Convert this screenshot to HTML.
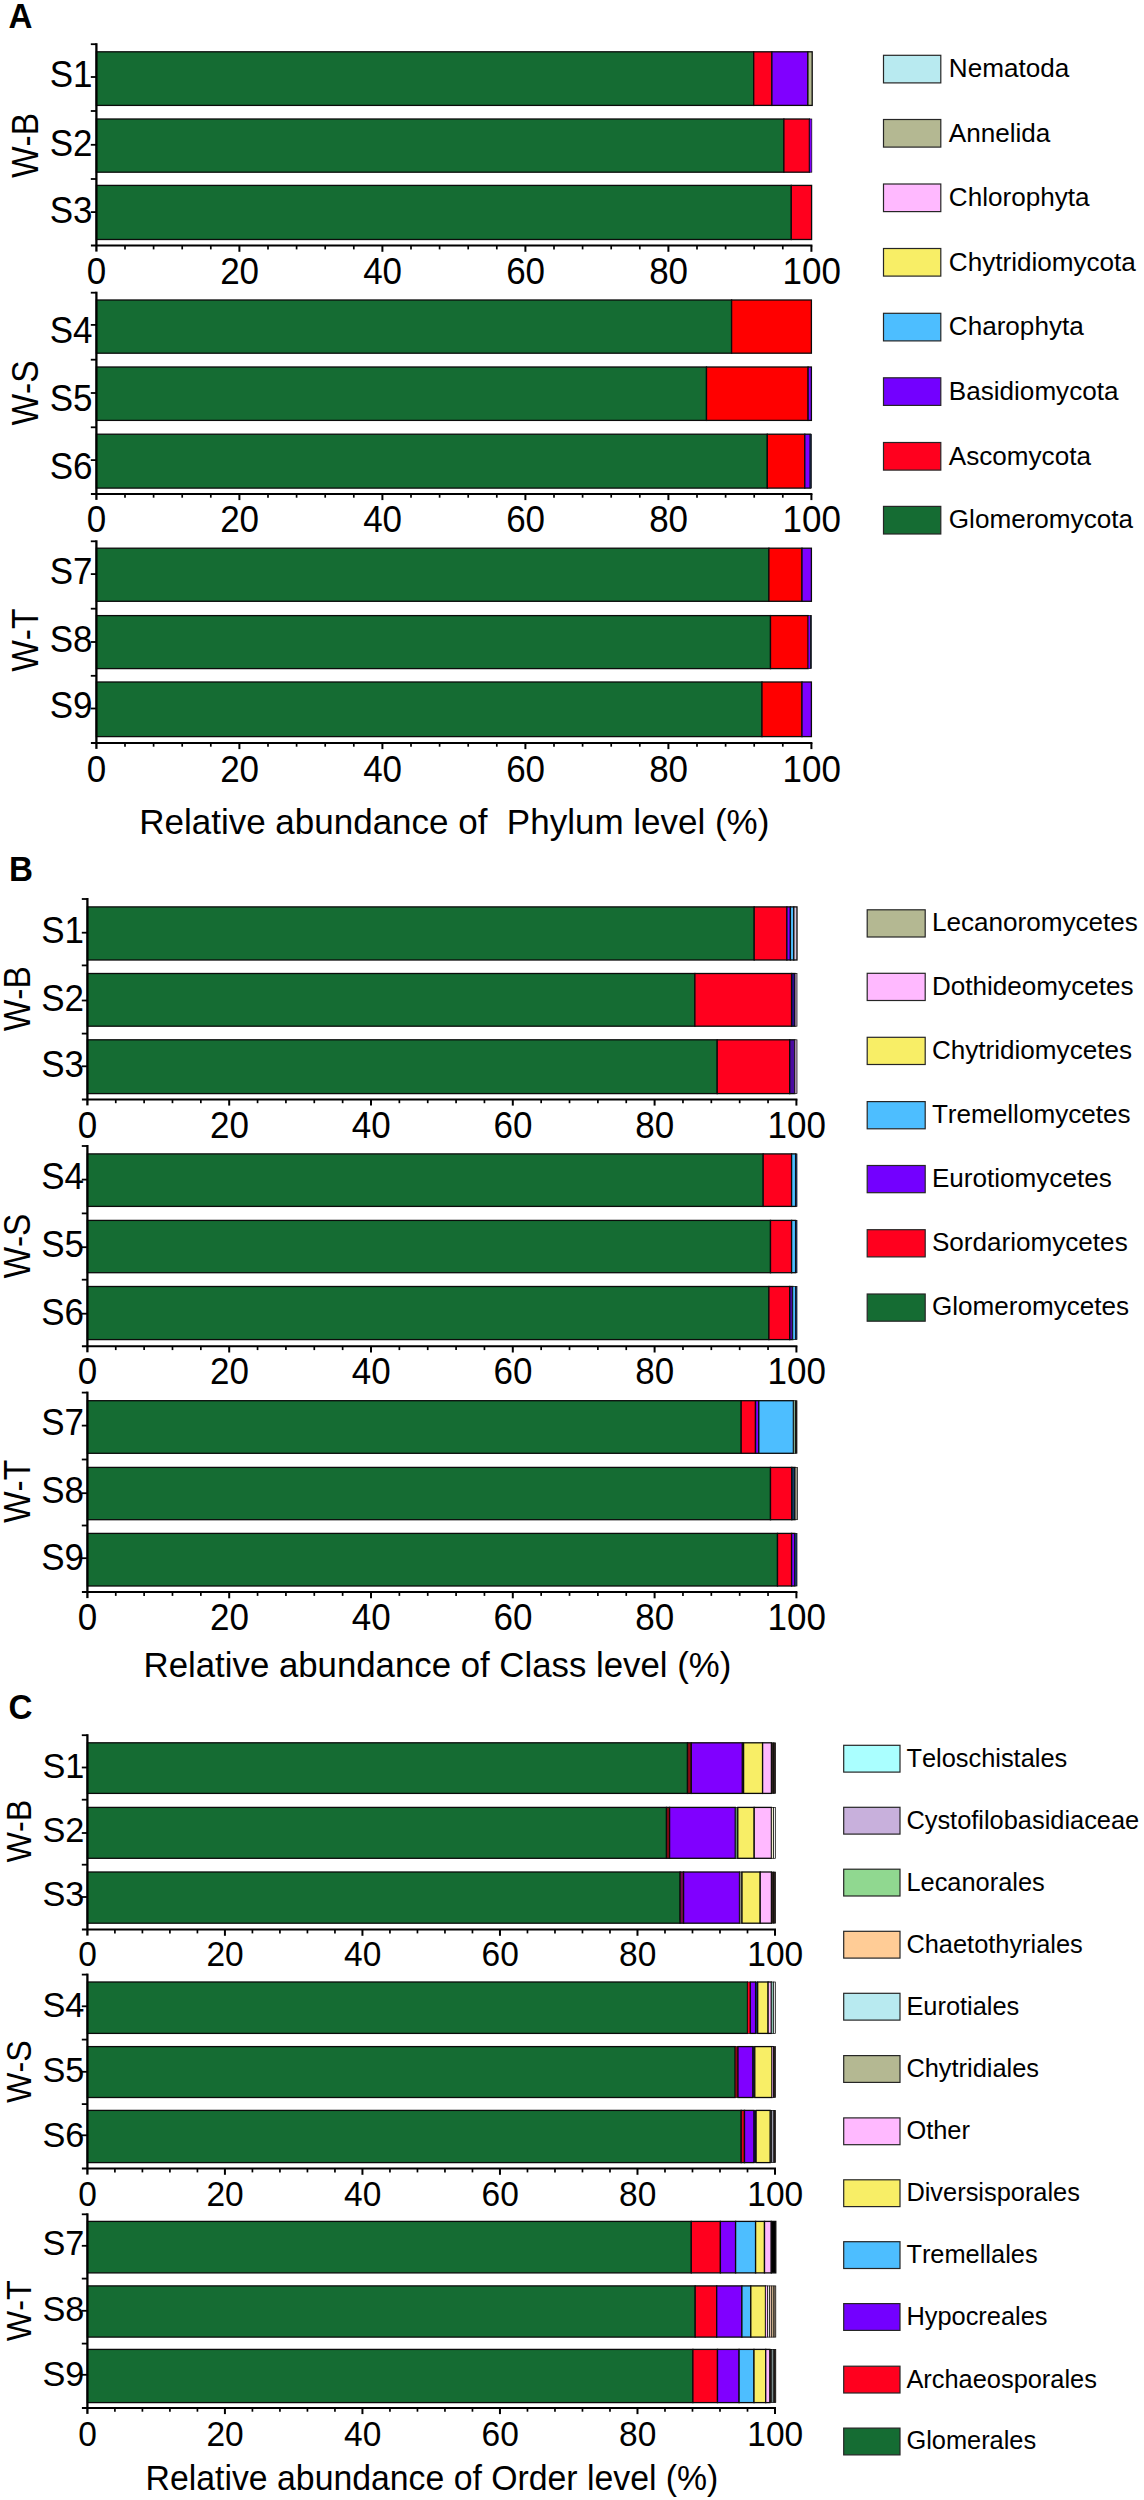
<!DOCTYPE html>
<html lang="en"><head><meta charset="utf-8"><title>Relative abundance at Phylum, Class and Order level</title>
<style>html,body{margin:0;padding:0;background:#fff}svg{display:block}text{font-family:'Liberation Sans', Arial, Helvetica, sans-serif;fill:#000;font-kerning:none}</style>
</head><body>
<svg width="1144" height="2500" viewBox="0 0 1144 2500">
<rect x="0" y="0" width="1144" height="2500" fill="#fff"/>
<g id="panelA">
<text transform="translate(8.5 27.6) scale(1.0 1.041)" font-size="33.2" font-weight="bold">A</text>
<rect x="96.4" y="51.8" width="657.3" height="53.6" fill="#156C33" stroke="#0b0b0b" stroke-width="1.3"/>
<rect x="753.7" y="51.8" width="18.2" height="53.6" fill="#FF001E" stroke="#0b0b0b" stroke-width="1.3"/>
<rect x="771.9" y="51.8" width="36" height="53.6" fill="#8000FF" stroke="#0b0b0b" stroke-width="1.3"/>
<rect x="807.9" y="51.8" width="4.3" height="53.6" fill="#B4B892" stroke="#0b0b0b" stroke-width="1.3"/>
<rect x="96.4" y="119" width="687.5" height="53.2" fill="#156C33" stroke="#0b0b0b" stroke-width="1.3"/>
<rect x="783.9" y="119" width="25.5" height="53.2" fill="#FF001E" stroke="#0b0b0b" stroke-width="1.3"/>
<rect x="809.4" y="119" width="2.4" height="53.2" fill="#8000FF" stroke="#0b0b0b" stroke-width="0.7"/>
<rect x="96.4" y="185.4" width="694.9" height="54.1" fill="#156C33" stroke="#0b0b0b" stroke-width="1.3"/>
<rect x="791.3" y="185.4" width="20.3" height="54.1" fill="#FF001E" stroke="#0b0b0b" stroke-width="1.3"/>
<line x1="96.4" y1="43.2" x2="96.4" y2="251.6" stroke="#000" stroke-width="2.3"/>
<line x1="90.9" y1="245.6" x2="812.4" y2="245.6" stroke="#000" stroke-width="2"/>
<line x1="90.8" y1="44.2" x2="96.4" y2="44.2" stroke="#000" stroke-width="1.8"/>
<line x1="90.8" y1="77" x2="96.4" y2="77" stroke="#000" stroke-width="1.8"/>
<line x1="90.8" y1="144.8" x2="96.4" y2="144.8" stroke="#000" stroke-width="1.8"/>
<line x1="90.8" y1="212.1" x2="96.4" y2="212.1" stroke="#000" stroke-width="1.8"/>
<line x1="90.8" y1="111" x2="96.4" y2="111" stroke="#000" stroke-width="1.8"/>
<line x1="90.8" y1="179" x2="96.4" y2="179" stroke="#000" stroke-width="1.8"/>
<line x1="125" y1="245.6" x2="125" y2="249.4" stroke="#000" stroke-width="1.7"/>
<line x1="153.6" y1="245.6" x2="153.6" y2="249.4" stroke="#000" stroke-width="1.7"/>
<line x1="182.2" y1="245.6" x2="182.2" y2="249.4" stroke="#000" stroke-width="1.7"/>
<line x1="210.8" y1="245.6" x2="210.8" y2="249.4" stroke="#000" stroke-width="1.7"/>
<line x1="239.4" y1="245.6" x2="239.4" y2="251.8" stroke="#000" stroke-width="2"/>
<line x1="268" y1="245.6" x2="268" y2="249.4" stroke="#000" stroke-width="1.7"/>
<line x1="296.6" y1="245.6" x2="296.6" y2="249.4" stroke="#000" stroke-width="1.7"/>
<line x1="325.2" y1="245.6" x2="325.2" y2="249.4" stroke="#000" stroke-width="1.7"/>
<line x1="353.8" y1="245.6" x2="353.8" y2="249.4" stroke="#000" stroke-width="1.7"/>
<line x1="382.4" y1="245.6" x2="382.4" y2="251.8" stroke="#000" stroke-width="2"/>
<line x1="411" y1="245.6" x2="411" y2="249.4" stroke="#000" stroke-width="1.7"/>
<line x1="439.6" y1="245.6" x2="439.6" y2="249.4" stroke="#000" stroke-width="1.7"/>
<line x1="468.2" y1="245.6" x2="468.2" y2="249.4" stroke="#000" stroke-width="1.7"/>
<line x1="496.8" y1="245.6" x2="496.8" y2="249.4" stroke="#000" stroke-width="1.7"/>
<line x1="525.4" y1="245.6" x2="525.4" y2="251.8" stroke="#000" stroke-width="2"/>
<line x1="554" y1="245.6" x2="554" y2="249.4" stroke="#000" stroke-width="1.7"/>
<line x1="582.6" y1="245.6" x2="582.6" y2="249.4" stroke="#000" stroke-width="1.7"/>
<line x1="611.2" y1="245.6" x2="611.2" y2="249.4" stroke="#000" stroke-width="1.7"/>
<line x1="639.8" y1="245.6" x2="639.8" y2="249.4" stroke="#000" stroke-width="1.7"/>
<line x1="668.4" y1="245.6" x2="668.4" y2="251.8" stroke="#000" stroke-width="2"/>
<line x1="697" y1="245.6" x2="697" y2="249.4" stroke="#000" stroke-width="1.7"/>
<line x1="725.6" y1="245.6" x2="725.6" y2="249.4" stroke="#000" stroke-width="1.7"/>
<line x1="754.2" y1="245.6" x2="754.2" y2="249.4" stroke="#000" stroke-width="1.7"/>
<line x1="782.8" y1="245.6" x2="782.8" y2="249.4" stroke="#000" stroke-width="1.7"/>
<line x1="811.4" y1="245.6" x2="811.4" y2="251.8" stroke="#000" stroke-width="2"/>
<text transform="translate(96.6 284) scale(1.0 1.041)" font-size="35.0" text-anchor="middle">0</text>
<text transform="translate(239.6 284) scale(1.0 1.041)" font-size="35.0" text-anchor="middle">20</text>
<text transform="translate(382.6 284) scale(1.0 1.041)" font-size="35.0" text-anchor="middle">40</text>
<text transform="translate(525.6 284) scale(1.0 1.041)" font-size="35.0" text-anchor="middle">60</text>
<text transform="translate(668.6 284) scale(1.0 1.041)" font-size="35.0" text-anchor="middle">80</text>
<text transform="translate(811.7 284) scale(1.0 1.041)" font-size="35.0" text-anchor="middle">100</text>
<text transform="translate(92.6 87.3) scale(1.0 1.041)" font-size="35.0" text-anchor="end">S1</text>
<text transform="translate(92.6 155.6) scale(1.0 1.041)" font-size="35.0" text-anchor="end">S2</text>
<text transform="translate(92.6 223.4) scale(1.0 1.041)" font-size="35.0" text-anchor="end">S3</text>
<text transform="translate(38.4 145.5) rotate(-90) scale(0.955 1.041)" font-size="35.0" text-anchor="middle">W-B</text>
<rect x="96.4" y="300" width="635.2" height="53.2" fill="#156C33" stroke="#0b0b0b" stroke-width="1.3"/>
<rect x="731.6" y="300" width="79.8" height="53.2" fill="#FF0000" stroke="#0b0b0b" stroke-width="1.3"/>
<rect x="96.4" y="367" width="610.1" height="53.4" fill="#156C33" stroke="#0b0b0b" stroke-width="1.3"/>
<rect x="706.5" y="367" width="101.6" height="53.4" fill="#FF0000" stroke="#0b0b0b" stroke-width="1.3"/>
<rect x="808.1" y="367" width="3.3" height="53.4" fill="#8000FF" stroke="#0b0b0b" stroke-width="1.3"/>
<rect x="96.4" y="434.2" width="670.9" height="53.9" fill="#156C33" stroke="#0b0b0b" stroke-width="1.3"/>
<rect x="767.3" y="434.2" width="37.5" height="53.9" fill="#FF0000" stroke="#0b0b0b" stroke-width="1.3"/>
<rect x="804.8" y="434.2" width="5.4" height="53.9" fill="#8000FF" stroke="#0b0b0b" stroke-width="1.3"/>
<rect x="810.2" y="434.2" width="1.2" height="53.9" fill="#1B3A7A" stroke="#0b0b0b" stroke-width="0.7"/>
<line x1="96.4" y1="291.7" x2="96.4" y2="499.9" stroke="#000" stroke-width="2.3"/>
<line x1="90.9" y1="493.9" x2="812.4" y2="493.9" stroke="#000" stroke-width="2"/>
<line x1="90.8" y1="292.7" x2="96.4" y2="292.7" stroke="#000" stroke-width="1.8"/>
<line x1="90.8" y1="324.9" x2="96.4" y2="324.9" stroke="#000" stroke-width="1.8"/>
<line x1="90.8" y1="393" x2="96.4" y2="393" stroke="#000" stroke-width="1.8"/>
<line x1="90.8" y1="460.1" x2="96.4" y2="460.1" stroke="#000" stroke-width="1.8"/>
<line x1="90.8" y1="359.7" x2="96.4" y2="359.7" stroke="#000" stroke-width="1.8"/>
<line x1="90.8" y1="427.3" x2="96.4" y2="427.3" stroke="#000" stroke-width="1.8"/>
<line x1="125" y1="493.9" x2="125" y2="497.7" stroke="#000" stroke-width="1.7"/>
<line x1="153.6" y1="493.9" x2="153.6" y2="497.7" stroke="#000" stroke-width="1.7"/>
<line x1="182.2" y1="493.9" x2="182.2" y2="497.7" stroke="#000" stroke-width="1.7"/>
<line x1="210.8" y1="493.9" x2="210.8" y2="497.7" stroke="#000" stroke-width="1.7"/>
<line x1="239.4" y1="493.9" x2="239.4" y2="500.1" stroke="#000" stroke-width="2"/>
<line x1="268" y1="493.9" x2="268" y2="497.7" stroke="#000" stroke-width="1.7"/>
<line x1="296.6" y1="493.9" x2="296.6" y2="497.7" stroke="#000" stroke-width="1.7"/>
<line x1="325.2" y1="493.9" x2="325.2" y2="497.7" stroke="#000" stroke-width="1.7"/>
<line x1="353.8" y1="493.9" x2="353.8" y2="497.7" stroke="#000" stroke-width="1.7"/>
<line x1="382.4" y1="493.9" x2="382.4" y2="500.1" stroke="#000" stroke-width="2"/>
<line x1="411" y1="493.9" x2="411" y2="497.7" stroke="#000" stroke-width="1.7"/>
<line x1="439.6" y1="493.9" x2="439.6" y2="497.7" stroke="#000" stroke-width="1.7"/>
<line x1="468.2" y1="493.9" x2="468.2" y2="497.7" stroke="#000" stroke-width="1.7"/>
<line x1="496.8" y1="493.9" x2="496.8" y2="497.7" stroke="#000" stroke-width="1.7"/>
<line x1="525.4" y1="493.9" x2="525.4" y2="500.1" stroke="#000" stroke-width="2"/>
<line x1="554" y1="493.9" x2="554" y2="497.7" stroke="#000" stroke-width="1.7"/>
<line x1="582.6" y1="493.9" x2="582.6" y2="497.7" stroke="#000" stroke-width="1.7"/>
<line x1="611.2" y1="493.9" x2="611.2" y2="497.7" stroke="#000" stroke-width="1.7"/>
<line x1="639.8" y1="493.9" x2="639.8" y2="497.7" stroke="#000" stroke-width="1.7"/>
<line x1="668.4" y1="493.9" x2="668.4" y2="500.1" stroke="#000" stroke-width="2"/>
<line x1="697" y1="493.9" x2="697" y2="497.7" stroke="#000" stroke-width="1.7"/>
<line x1="725.6" y1="493.9" x2="725.6" y2="497.7" stroke="#000" stroke-width="1.7"/>
<line x1="754.2" y1="493.9" x2="754.2" y2="497.7" stroke="#000" stroke-width="1.7"/>
<line x1="782.8" y1="493.9" x2="782.8" y2="497.7" stroke="#000" stroke-width="1.7"/>
<line x1="811.4" y1="493.9" x2="811.4" y2="500.1" stroke="#000" stroke-width="2"/>
<text transform="translate(96.6 531.6) scale(1.0 1.041)" font-size="35.0" text-anchor="middle">0</text>
<text transform="translate(239.6 531.6) scale(1.0 1.041)" font-size="35.0" text-anchor="middle">20</text>
<text transform="translate(382.6 531.6) scale(1.0 1.041)" font-size="35.0" text-anchor="middle">40</text>
<text transform="translate(525.6 531.6) scale(1.0 1.041)" font-size="35.0" text-anchor="middle">60</text>
<text transform="translate(668.6 531.6) scale(1.0 1.041)" font-size="35.0" text-anchor="middle">80</text>
<text transform="translate(811.7 531.6) scale(1.0 1.041)" font-size="35.0" text-anchor="middle">100</text>
<text transform="translate(92.6 342.9) scale(1.0 1.041)" font-size="35.0" text-anchor="end">S4</text>
<text transform="translate(92.6 411) scale(1.0 1.041)" font-size="35.0" text-anchor="end">S5</text>
<text transform="translate(92.6 478.6) scale(1.0 1.041)" font-size="35.0" text-anchor="end">S6</text>
<text transform="translate(38.4 393) rotate(-90) scale(0.955 1.041)" font-size="35.0" text-anchor="middle">W-S</text>
<rect x="96.4" y="548.2" width="672.5" height="53.1" fill="#156C33" stroke="#0b0b0b" stroke-width="1.3"/>
<rect x="768.9" y="548.2" width="33.1" height="53.1" fill="#FF0000" stroke="#0b0b0b" stroke-width="1.3"/>
<rect x="802" y="548.2" width="9.4" height="53.1" fill="#8000FF" stroke="#0b0b0b" stroke-width="1.3"/>
<rect x="96.4" y="615.6" width="674.1" height="53" fill="#156C33" stroke="#0b0b0b" stroke-width="1.3"/>
<rect x="770.5" y="615.6" width="37.6" height="53" fill="#FF0000" stroke="#0b0b0b" stroke-width="1.3"/>
<rect x="808.1" y="615.6" width="2.3" height="53" fill="#8000FF" stroke="#0b0b0b" stroke-width="0.7"/>
<rect x="810.4" y="615.6" width="1" height="53" fill="#1B3A7A" stroke="#0b0b0b" stroke-width="0.7"/>
<rect x="96.4" y="682" width="665.6" height="54.6" fill="#156C33" stroke="#0b0b0b" stroke-width="1.3"/>
<rect x="762" y="682" width="40" height="54.6" fill="#FF0000" stroke="#0b0b0b" stroke-width="1.3"/>
<rect x="802" y="682" width="9.4" height="54.6" fill="#8000FF" stroke="#0b0b0b" stroke-width="1.3"/>
<line x1="96.4" y1="540.3" x2="96.4" y2="748.9" stroke="#000" stroke-width="2.3"/>
<line x1="90.9" y1="742.9" x2="812.4" y2="742.9" stroke="#000" stroke-width="2"/>
<line x1="90.8" y1="541.3" x2="96.4" y2="541.3" stroke="#000" stroke-width="1.8"/>
<line x1="90.8" y1="574.1" x2="96.4" y2="574.1" stroke="#000" stroke-width="1.8"/>
<line x1="90.8" y1="642" x2="96.4" y2="642" stroke="#000" stroke-width="1.8"/>
<line x1="90.8" y1="708.5" x2="96.4" y2="708.5" stroke="#000" stroke-width="1.8"/>
<line x1="90.8" y1="608.7" x2="96.4" y2="608.7" stroke="#000" stroke-width="1.8"/>
<line x1="90.8" y1="675.8" x2="96.4" y2="675.8" stroke="#000" stroke-width="1.8"/>
<line x1="125" y1="742.9" x2="125" y2="746.7" stroke="#000" stroke-width="1.7"/>
<line x1="153.6" y1="742.9" x2="153.6" y2="746.7" stroke="#000" stroke-width="1.7"/>
<line x1="182.2" y1="742.9" x2="182.2" y2="746.7" stroke="#000" stroke-width="1.7"/>
<line x1="210.8" y1="742.9" x2="210.8" y2="746.7" stroke="#000" stroke-width="1.7"/>
<line x1="239.4" y1="742.9" x2="239.4" y2="749.1" stroke="#000" stroke-width="2"/>
<line x1="268" y1="742.9" x2="268" y2="746.7" stroke="#000" stroke-width="1.7"/>
<line x1="296.6" y1="742.9" x2="296.6" y2="746.7" stroke="#000" stroke-width="1.7"/>
<line x1="325.2" y1="742.9" x2="325.2" y2="746.7" stroke="#000" stroke-width="1.7"/>
<line x1="353.8" y1="742.9" x2="353.8" y2="746.7" stroke="#000" stroke-width="1.7"/>
<line x1="382.4" y1="742.9" x2="382.4" y2="749.1" stroke="#000" stroke-width="2"/>
<line x1="411" y1="742.9" x2="411" y2="746.7" stroke="#000" stroke-width="1.7"/>
<line x1="439.6" y1="742.9" x2="439.6" y2="746.7" stroke="#000" stroke-width="1.7"/>
<line x1="468.2" y1="742.9" x2="468.2" y2="746.7" stroke="#000" stroke-width="1.7"/>
<line x1="496.8" y1="742.9" x2="496.8" y2="746.7" stroke="#000" stroke-width="1.7"/>
<line x1="525.4" y1="742.9" x2="525.4" y2="749.1" stroke="#000" stroke-width="2"/>
<line x1="554" y1="742.9" x2="554" y2="746.7" stroke="#000" stroke-width="1.7"/>
<line x1="582.6" y1="742.9" x2="582.6" y2="746.7" stroke="#000" stroke-width="1.7"/>
<line x1="611.2" y1="742.9" x2="611.2" y2="746.7" stroke="#000" stroke-width="1.7"/>
<line x1="639.8" y1="742.9" x2="639.8" y2="746.7" stroke="#000" stroke-width="1.7"/>
<line x1="668.4" y1="742.9" x2="668.4" y2="749.1" stroke="#000" stroke-width="2"/>
<line x1="697" y1="742.9" x2="697" y2="746.7" stroke="#000" stroke-width="1.7"/>
<line x1="725.6" y1="742.9" x2="725.6" y2="746.7" stroke="#000" stroke-width="1.7"/>
<line x1="754.2" y1="742.9" x2="754.2" y2="746.7" stroke="#000" stroke-width="1.7"/>
<line x1="782.8" y1="742.9" x2="782.8" y2="746.7" stroke="#000" stroke-width="1.7"/>
<line x1="811.4" y1="742.9" x2="811.4" y2="749.1" stroke="#000" stroke-width="2"/>
<text transform="translate(96.6 781.6) scale(1.0 1.041)" font-size="35.0" text-anchor="middle">0</text>
<text transform="translate(239.6 781.6) scale(1.0 1.041)" font-size="35.0" text-anchor="middle">20</text>
<text transform="translate(382.6 781.6) scale(1.0 1.041)" font-size="35.0" text-anchor="middle">40</text>
<text transform="translate(525.6 781.6) scale(1.0 1.041)" font-size="35.0" text-anchor="middle">60</text>
<text transform="translate(668.6 781.6) scale(1.0 1.041)" font-size="35.0" text-anchor="middle">80</text>
<text transform="translate(811.7 781.6) scale(1.0 1.041)" font-size="35.0" text-anchor="middle">100</text>
<text transform="translate(92.6 583.5) scale(1.0 1.041)" font-size="35.0" text-anchor="end">S7</text>
<text transform="translate(92.6 651.7) scale(1.0 1.041)" font-size="35.0" text-anchor="end">S8</text>
<text transform="translate(92.6 718.2) scale(1.0 1.041)" font-size="35.0" text-anchor="end">S9</text>
<text transform="translate(38.4 640.2) rotate(-90) scale(0.955 1.041)" font-size="35.0" text-anchor="middle">W-T</text>
<text transform="translate(139.2 833.6) scale(1.0 1.02)" font-size="35.0" xml:space="preserve">Relative abundance of  Phylum level (%)</text>
<rect x="883.5" y="55.3" width="57.3" height="27.6" fill="#B8EAF0" stroke="#262626" stroke-width="1.2"/>
<text transform="translate(948.8 77.3) scale(1.0 1.0)" font-size="26.1">Nematoda</text>
<rect x="883.5" y="119.5" width="57.3" height="27.6" fill="#B4B892" stroke="#262626" stroke-width="1.2"/>
<text transform="translate(948.8 141.5) scale(1.0 1.0)" font-size="26.1">Annelida</text>
<rect x="883.5" y="184" width="57.3" height="27.6" fill="#FFB9FF" stroke="#262626" stroke-width="1.2"/>
<text transform="translate(948.8 206) scale(1.0 1.0)" font-size="26.1">Chlorophyta</text>
<rect x="883.5" y="248.5" width="57.3" height="27.6" fill="#F8EE66" stroke="#262626" stroke-width="1.2"/>
<text transform="translate(948.8 270.5) scale(1.0 1.0)" font-size="26.1">Chytridiomycota</text>
<rect x="883.5" y="313.3" width="57.3" height="27.6" fill="#4DBEFF" stroke="#262626" stroke-width="1.2"/>
<text transform="translate(948.8 335.3) scale(1.0 1.0)" font-size="26.1">Charophyta</text>
<rect x="883.5" y="377.8" width="57.3" height="27.6" fill="#7300FF" stroke="#262626" stroke-width="1.2"/>
<text transform="translate(948.8 399.8) scale(1.0 1.0)" font-size="26.1">Basidiomycota</text>
<rect x="883.5" y="442.5" width="57.3" height="27.6" fill="#FF001E" stroke="#262626" stroke-width="1.2"/>
<text transform="translate(948.8 464.5) scale(1.0 1.0)" font-size="26.1">Ascomycota</text>
<rect x="883.5" y="506.4" width="57.3" height="27.6" fill="#156C33" stroke="#262626" stroke-width="1.2"/>
<text transform="translate(948.8 528.4) scale(1.0 1.0)" font-size="26.1">Glomeromycota</text>
</g>
<g id="panelB">
<text transform="translate(8.9 880.6) scale(1.0 1.041)" font-size="33.2" font-weight="bold">B</text>
<rect x="87.4" y="906.9" width="666.8" height="53.1" fill="#156C33" stroke="#0b0b0b" stroke-width="1.3"/>
<rect x="754.2" y="906.9" width="32.7" height="53.1" fill="#FF001E" stroke="#0b0b0b" stroke-width="1.3"/>
<rect x="786.9" y="906.9" width="3.5" height="53.1" fill="#8000FF" stroke="#0b0b0b" stroke-width="1.3"/>
<rect x="790.4" y="906.9" width="3.4" height="53.1" fill="#4DBEFF" stroke="#0b0b0b" stroke-width="1.3"/>
<rect x="793.8" y="906.9" width="3.2" height="53.1" fill="#D8C8E0" stroke="#0b0b0b" stroke-width="1.3"/>
<rect x="87.4" y="973.5" width="607.5" height="52.7" fill="#156C33" stroke="#0b0b0b" stroke-width="1.3"/>
<rect x="694.9" y="973.5" width="96.7" height="52.7" fill="#FF001E" stroke="#0b0b0b" stroke-width="1.3"/>
<rect x="791.6" y="973.5" width="3.4" height="52.7" fill="#2A0A8A" stroke="#0b0b0b" stroke-width="1.3"/>
<rect x="795" y="973.5" width="2" height="52.7" fill="#C4A4C4" stroke="#0b0b0b" stroke-width="0.7"/>
<rect x="87.4" y="1039.8" width="629.8" height="53.8" fill="#156C33" stroke="#0b0b0b" stroke-width="1.3"/>
<rect x="717.2" y="1039.8" width="72.5" height="53.8" fill="#FF001E" stroke="#0b0b0b" stroke-width="1.3"/>
<rect x="789.7" y="1039.8" width="5.1" height="53.8" fill="#4A0AA0" stroke="#0b0b0b" stroke-width="1.3"/>
<rect x="794.8" y="1039.8" width="2.2" height="53.8" fill="#C4A4C4" stroke="#0b0b0b" stroke-width="0.7"/>
<line x1="87.4" y1="898" x2="87.4" y2="1105.4" stroke="#000" stroke-width="2.3"/>
<line x1="81.9" y1="1099.4" x2="797.4" y2="1099.4" stroke="#000" stroke-width="2"/>
<line x1="81.8" y1="899" x2="87.4" y2="899" stroke="#000" stroke-width="1.8"/>
<line x1="81.8" y1="932.7" x2="87.4" y2="932.7" stroke="#000" stroke-width="1.8"/>
<line x1="81.8" y1="1000.5" x2="87.4" y2="1000.5" stroke="#000" stroke-width="1.8"/>
<line x1="81.8" y1="1066.3" x2="87.4" y2="1066.3" stroke="#000" stroke-width="1.8"/>
<line x1="81.8" y1="965.4" x2="87.4" y2="965.4" stroke="#000" stroke-width="1.8"/>
<line x1="81.8" y1="1033.6" x2="87.4" y2="1033.6" stroke="#000" stroke-width="1.8"/>
<line x1="115.76" y1="1099.4" x2="115.76" y2="1103.2" stroke="#000" stroke-width="1.7"/>
<line x1="144.12" y1="1099.4" x2="144.12" y2="1103.2" stroke="#000" stroke-width="1.7"/>
<line x1="172.48" y1="1099.4" x2="172.48" y2="1103.2" stroke="#000" stroke-width="1.7"/>
<line x1="200.84" y1="1099.4" x2="200.84" y2="1103.2" stroke="#000" stroke-width="1.7"/>
<line x1="229.2" y1="1099.4" x2="229.2" y2="1105.6" stroke="#000" stroke-width="2"/>
<line x1="257.56" y1="1099.4" x2="257.56" y2="1103.2" stroke="#000" stroke-width="1.7"/>
<line x1="285.92" y1="1099.4" x2="285.92" y2="1103.2" stroke="#000" stroke-width="1.7"/>
<line x1="314.28" y1="1099.4" x2="314.28" y2="1103.2" stroke="#000" stroke-width="1.7"/>
<line x1="342.64" y1="1099.4" x2="342.64" y2="1103.2" stroke="#000" stroke-width="1.7"/>
<line x1="371" y1="1099.4" x2="371" y2="1105.6" stroke="#000" stroke-width="2"/>
<line x1="399.36" y1="1099.4" x2="399.36" y2="1103.2" stroke="#000" stroke-width="1.7"/>
<line x1="427.72" y1="1099.4" x2="427.72" y2="1103.2" stroke="#000" stroke-width="1.7"/>
<line x1="456.08" y1="1099.4" x2="456.08" y2="1103.2" stroke="#000" stroke-width="1.7"/>
<line x1="484.44" y1="1099.4" x2="484.44" y2="1103.2" stroke="#000" stroke-width="1.7"/>
<line x1="512.8" y1="1099.4" x2="512.8" y2="1105.6" stroke="#000" stroke-width="2"/>
<line x1="541.16" y1="1099.4" x2="541.16" y2="1103.2" stroke="#000" stroke-width="1.7"/>
<line x1="569.52" y1="1099.4" x2="569.52" y2="1103.2" stroke="#000" stroke-width="1.7"/>
<line x1="597.88" y1="1099.4" x2="597.88" y2="1103.2" stroke="#000" stroke-width="1.7"/>
<line x1="626.24" y1="1099.4" x2="626.24" y2="1103.2" stroke="#000" stroke-width="1.7"/>
<line x1="654.6" y1="1099.4" x2="654.6" y2="1105.6" stroke="#000" stroke-width="2"/>
<line x1="682.96" y1="1099.4" x2="682.96" y2="1103.2" stroke="#000" stroke-width="1.7"/>
<line x1="711.32" y1="1099.4" x2="711.32" y2="1103.2" stroke="#000" stroke-width="1.7"/>
<line x1="739.68" y1="1099.4" x2="739.68" y2="1103.2" stroke="#000" stroke-width="1.7"/>
<line x1="768.04" y1="1099.4" x2="768.04" y2="1103.2" stroke="#000" stroke-width="1.7"/>
<line x1="796.4" y1="1099.4" x2="796.4" y2="1105.6" stroke="#000" stroke-width="2"/>
<text transform="translate(87.6 1138.1) scale(1.0 1.041)" font-size="35.0" text-anchor="middle">0</text>
<text transform="translate(229.4 1138.1) scale(1.0 1.041)" font-size="35.0" text-anchor="middle">20</text>
<text transform="translate(371.2 1138.1) scale(1.0 1.041)" font-size="35.0" text-anchor="middle">40</text>
<text transform="translate(513 1138.1) scale(1.0 1.041)" font-size="35.0" text-anchor="middle">60</text>
<text transform="translate(654.8 1138.1) scale(1.0 1.041)" font-size="35.0" text-anchor="middle">80</text>
<text transform="translate(796.7 1138.1) scale(1.0 1.041)" font-size="35.0" text-anchor="middle">100</text>
<text transform="translate(84 942.9) scale(1.0 1.041)" font-size="35.0" text-anchor="end">S1</text>
<text transform="translate(84 1010.5) scale(1.0 1.041)" font-size="35.0" text-anchor="end">S2</text>
<text transform="translate(84 1077.1) scale(1.0 1.041)" font-size="35.0" text-anchor="end">S3</text>
<text transform="translate(29.7 998.7) rotate(-90) scale(0.955 1.041)" font-size="35.0" text-anchor="middle">W-B</text>
<rect x="87.4" y="1153.9" width="675.8" height="52.5" fill="#156C33" stroke="#0b0b0b" stroke-width="1.3"/>
<rect x="763.2" y="1153.9" width="28.4" height="52.5" fill="#FF001E" stroke="#0b0b0b" stroke-width="1.3"/>
<rect x="791.6" y="1153.9" width="4" height="52.5" fill="#4DBEFF" stroke="#0b0b0b" stroke-width="1.3"/>
<rect x="795.6" y="1153.9" width="1.4" height="52.5" fill="#1B3A7A" stroke="#0b0b0b" stroke-width="0.7"/>
<rect x="87.4" y="1220.4" width="683.1" height="52.3" fill="#156C33" stroke="#0b0b0b" stroke-width="1.3"/>
<rect x="770.5" y="1220.4" width="21.1" height="52.3" fill="#FF001E" stroke="#0b0b0b" stroke-width="1.3"/>
<rect x="791.6" y="1220.4" width="4" height="52.3" fill="#4DBEFF" stroke="#0b0b0b" stroke-width="1.3"/>
<rect x="795.6" y="1220.4" width="1.4" height="52.3" fill="#1B3A7A" stroke="#0b0b0b" stroke-width="0.7"/>
<rect x="87.4" y="1286.5" width="681.5" height="53.1" fill="#156C33" stroke="#0b0b0b" stroke-width="1.3"/>
<rect x="768.9" y="1286.5" width="20.8" height="53.1" fill="#FF001E" stroke="#0b0b0b" stroke-width="1.3"/>
<rect x="789.7" y="1286.5" width="3.1" height="53.1" fill="#4A0AA0" stroke="#0b0b0b" stroke-width="1.3"/>
<rect x="792.8" y="1286.5" width="2.6" height="53.1" fill="#4DBEFF" stroke="#0b0b0b" stroke-width="0.7"/>
<rect x="795.4" y="1286.5" width="1.6" height="53.1" fill="#1B3A7A" stroke="#0b0b0b" stroke-width="0.7"/>
<line x1="87.4" y1="1145" x2="87.4" y2="1352.3" stroke="#000" stroke-width="2.3"/>
<line x1="81.9" y1="1346.3" x2="797.4" y2="1346.3" stroke="#000" stroke-width="2"/>
<line x1="81.8" y1="1146" x2="87.4" y2="1146" stroke="#000" stroke-width="1.8"/>
<line x1="81.8" y1="1179.6" x2="87.4" y2="1179.6" stroke="#000" stroke-width="1.8"/>
<line x1="81.8" y1="1247.2" x2="87.4" y2="1247.2" stroke="#000" stroke-width="1.8"/>
<line x1="81.8" y1="1313.7" x2="87.4" y2="1313.7" stroke="#000" stroke-width="1.8"/>
<line x1="81.8" y1="1213.4" x2="87.4" y2="1213.4" stroke="#000" stroke-width="1.8"/>
<line x1="81.8" y1="1279.7" x2="87.4" y2="1279.7" stroke="#000" stroke-width="1.8"/>
<line x1="115.76" y1="1346.3" x2="115.76" y2="1350.1" stroke="#000" stroke-width="1.7"/>
<line x1="144.12" y1="1346.3" x2="144.12" y2="1350.1" stroke="#000" stroke-width="1.7"/>
<line x1="172.48" y1="1346.3" x2="172.48" y2="1350.1" stroke="#000" stroke-width="1.7"/>
<line x1="200.84" y1="1346.3" x2="200.84" y2="1350.1" stroke="#000" stroke-width="1.7"/>
<line x1="229.2" y1="1346.3" x2="229.2" y2="1352.5" stroke="#000" stroke-width="2"/>
<line x1="257.56" y1="1346.3" x2="257.56" y2="1350.1" stroke="#000" stroke-width="1.7"/>
<line x1="285.92" y1="1346.3" x2="285.92" y2="1350.1" stroke="#000" stroke-width="1.7"/>
<line x1="314.28" y1="1346.3" x2="314.28" y2="1350.1" stroke="#000" stroke-width="1.7"/>
<line x1="342.64" y1="1346.3" x2="342.64" y2="1350.1" stroke="#000" stroke-width="1.7"/>
<line x1="371" y1="1346.3" x2="371" y2="1352.5" stroke="#000" stroke-width="2"/>
<line x1="399.36" y1="1346.3" x2="399.36" y2="1350.1" stroke="#000" stroke-width="1.7"/>
<line x1="427.72" y1="1346.3" x2="427.72" y2="1350.1" stroke="#000" stroke-width="1.7"/>
<line x1="456.08" y1="1346.3" x2="456.08" y2="1350.1" stroke="#000" stroke-width="1.7"/>
<line x1="484.44" y1="1346.3" x2="484.44" y2="1350.1" stroke="#000" stroke-width="1.7"/>
<line x1="512.8" y1="1346.3" x2="512.8" y2="1352.5" stroke="#000" stroke-width="2"/>
<line x1="541.16" y1="1346.3" x2="541.16" y2="1350.1" stroke="#000" stroke-width="1.7"/>
<line x1="569.52" y1="1346.3" x2="569.52" y2="1350.1" stroke="#000" stroke-width="1.7"/>
<line x1="597.88" y1="1346.3" x2="597.88" y2="1350.1" stroke="#000" stroke-width="1.7"/>
<line x1="626.24" y1="1346.3" x2="626.24" y2="1350.1" stroke="#000" stroke-width="1.7"/>
<line x1="654.6" y1="1346.3" x2="654.6" y2="1352.5" stroke="#000" stroke-width="2"/>
<line x1="682.96" y1="1346.3" x2="682.96" y2="1350.1" stroke="#000" stroke-width="1.7"/>
<line x1="711.32" y1="1346.3" x2="711.32" y2="1350.1" stroke="#000" stroke-width="1.7"/>
<line x1="739.68" y1="1346.3" x2="739.68" y2="1350.1" stroke="#000" stroke-width="1.7"/>
<line x1="768.04" y1="1346.3" x2="768.04" y2="1350.1" stroke="#000" stroke-width="1.7"/>
<line x1="796.4" y1="1346.3" x2="796.4" y2="1352.5" stroke="#000" stroke-width="2"/>
<text transform="translate(87.6 1384.3) scale(1.0 1.041)" font-size="35.0" text-anchor="middle">0</text>
<text transform="translate(229.4 1384.3) scale(1.0 1.041)" font-size="35.0" text-anchor="middle">20</text>
<text transform="translate(371.2 1384.3) scale(1.0 1.041)" font-size="35.0" text-anchor="middle">40</text>
<text transform="translate(513 1384.3) scale(1.0 1.041)" font-size="35.0" text-anchor="middle">60</text>
<text transform="translate(654.8 1384.3) scale(1.0 1.041)" font-size="35.0" text-anchor="middle">80</text>
<text transform="translate(796.7 1384.3) scale(1.0 1.041)" font-size="35.0" text-anchor="middle">100</text>
<text transform="translate(84 1188.7) scale(1.0 1.041)" font-size="35.0" text-anchor="end">S4</text>
<text transform="translate(84 1256.9) scale(1.0 1.041)" font-size="35.0" text-anchor="end">S5</text>
<text transform="translate(84 1324.5) scale(1.0 1.041)" font-size="35.0" text-anchor="end">S6</text>
<text transform="translate(29.7 1246.1) rotate(-90) scale(0.955 1.041)" font-size="35.0" text-anchor="middle">W-S</text>
<rect x="87.4" y="1400.7" width="653.8" height="52.6" fill="#156C33" stroke="#0b0b0b" stroke-width="1.3"/>
<rect x="741.2" y="1400.7" width="14.3" height="52.6" fill="#FF001E" stroke="#0b0b0b" stroke-width="1.3"/>
<rect x="755.5" y="1400.7" width="3.3" height="52.6" fill="#8000FF" stroke="#0b0b0b" stroke-width="1.3"/>
<rect x="758.8" y="1400.7" width="34.6" height="52.6" fill="#4DBEFF" stroke="#0b0b0b" stroke-width="1.3"/>
<rect x="793.4" y="1400.7" width="2.2" height="52.6" fill="#7FA88F" stroke="#0b0b0b" stroke-width="0.7"/>
<rect x="795.6" y="1400.7" width="1.4" height="52.6" fill="#2A1E1A" stroke="#0b0b0b" stroke-width="0.7"/>
<rect x="87.4" y="1467.4" width="683.1" height="52.3" fill="#156C33" stroke="#0b0b0b" stroke-width="1.3"/>
<rect x="770.5" y="1467.4" width="21.3" height="52.3" fill="#FF001E" stroke="#0b0b0b" stroke-width="1.3"/>
<rect x="791.8" y="1467.4" width="3.2" height="52.3" fill="#143C64" stroke="#0b0b0b" stroke-width="1.3"/>
<rect x="795" y="1467.4" width="2.4" height="52.3" fill="#9A9684" stroke="#0b0b0b" stroke-width="0.7"/>
<rect x="87.4" y="1533.4" width="690.1" height="52.6" fill="#156C33" stroke="#0b0b0b" stroke-width="1.3"/>
<rect x="777.5" y="1533.4" width="14.1" height="52.6" fill="#FF001E" stroke="#0b0b0b" stroke-width="1.3"/>
<rect x="791.6" y="1533.4" width="3.2" height="52.6" fill="#8000FF" stroke="#0b0b0b" stroke-width="1.3"/>
<rect x="794.8" y="1533.4" width="2.2" height="52.6" fill="#1B3A7A" stroke="#0b0b0b" stroke-width="0.7"/>
<line x1="87.4" y1="1391.6" x2="87.4" y2="1598.1" stroke="#000" stroke-width="2.3"/>
<line x1="81.9" y1="1592.1" x2="797.4" y2="1592.1" stroke="#000" stroke-width="2"/>
<line x1="81.8" y1="1392.6" x2="87.4" y2="1392.6" stroke="#000" stroke-width="1.8"/>
<line x1="81.8" y1="1425.6" x2="87.4" y2="1425.6" stroke="#000" stroke-width="1.8"/>
<line x1="81.8" y1="1493.2" x2="87.4" y2="1493.2" stroke="#000" stroke-width="1.8"/>
<line x1="81.8" y1="1558.2" x2="87.4" y2="1558.2" stroke="#000" stroke-width="1.8"/>
<line x1="81.8" y1="1459.5" x2="87.4" y2="1459.5" stroke="#000" stroke-width="1.8"/>
<line x1="81.8" y1="1525.5" x2="87.4" y2="1525.5" stroke="#000" stroke-width="1.8"/>
<line x1="115.76" y1="1592.1" x2="115.76" y2="1595.9" stroke="#000" stroke-width="1.7"/>
<line x1="144.12" y1="1592.1" x2="144.12" y2="1595.9" stroke="#000" stroke-width="1.7"/>
<line x1="172.48" y1="1592.1" x2="172.48" y2="1595.9" stroke="#000" stroke-width="1.7"/>
<line x1="200.84" y1="1592.1" x2="200.84" y2="1595.9" stroke="#000" stroke-width="1.7"/>
<line x1="229.2" y1="1592.1" x2="229.2" y2="1598.3" stroke="#000" stroke-width="2"/>
<line x1="257.56" y1="1592.1" x2="257.56" y2="1595.9" stroke="#000" stroke-width="1.7"/>
<line x1="285.92" y1="1592.1" x2="285.92" y2="1595.9" stroke="#000" stroke-width="1.7"/>
<line x1="314.28" y1="1592.1" x2="314.28" y2="1595.9" stroke="#000" stroke-width="1.7"/>
<line x1="342.64" y1="1592.1" x2="342.64" y2="1595.9" stroke="#000" stroke-width="1.7"/>
<line x1="371" y1="1592.1" x2="371" y2="1598.3" stroke="#000" stroke-width="2"/>
<line x1="399.36" y1="1592.1" x2="399.36" y2="1595.9" stroke="#000" stroke-width="1.7"/>
<line x1="427.72" y1="1592.1" x2="427.72" y2="1595.9" stroke="#000" stroke-width="1.7"/>
<line x1="456.08" y1="1592.1" x2="456.08" y2="1595.9" stroke="#000" stroke-width="1.7"/>
<line x1="484.44" y1="1592.1" x2="484.44" y2="1595.9" stroke="#000" stroke-width="1.7"/>
<line x1="512.8" y1="1592.1" x2="512.8" y2="1598.3" stroke="#000" stroke-width="2"/>
<line x1="541.16" y1="1592.1" x2="541.16" y2="1595.9" stroke="#000" stroke-width="1.7"/>
<line x1="569.52" y1="1592.1" x2="569.52" y2="1595.9" stroke="#000" stroke-width="1.7"/>
<line x1="597.88" y1="1592.1" x2="597.88" y2="1595.9" stroke="#000" stroke-width="1.7"/>
<line x1="626.24" y1="1592.1" x2="626.24" y2="1595.9" stroke="#000" stroke-width="1.7"/>
<line x1="654.6" y1="1592.1" x2="654.6" y2="1598.3" stroke="#000" stroke-width="2"/>
<line x1="682.96" y1="1592.1" x2="682.96" y2="1595.9" stroke="#000" stroke-width="1.7"/>
<line x1="711.32" y1="1592.1" x2="711.32" y2="1595.9" stroke="#000" stroke-width="1.7"/>
<line x1="739.68" y1="1592.1" x2="739.68" y2="1595.9" stroke="#000" stroke-width="1.7"/>
<line x1="768.04" y1="1592.1" x2="768.04" y2="1595.9" stroke="#000" stroke-width="1.7"/>
<line x1="796.4" y1="1592.1" x2="796.4" y2="1598.3" stroke="#000" stroke-width="2"/>
<text transform="translate(87.6 1630.3) scale(1.0 1.041)" font-size="35.0" text-anchor="middle">0</text>
<text transform="translate(229.4 1630.3) scale(1.0 1.041)" font-size="35.0" text-anchor="middle">20</text>
<text transform="translate(371.2 1630.3) scale(1.0 1.041)" font-size="35.0" text-anchor="middle">40</text>
<text transform="translate(513 1630.3) scale(1.0 1.041)" font-size="35.0" text-anchor="middle">60</text>
<text transform="translate(654.8 1630.3) scale(1.0 1.041)" font-size="35.0" text-anchor="middle">80</text>
<text transform="translate(796.7 1630.3) scale(1.0 1.041)" font-size="35.0" text-anchor="middle">100</text>
<text transform="translate(84 1435.3) scale(1.0 1.041)" font-size="35.0" text-anchor="end">S7</text>
<text transform="translate(84 1502.9) scale(1.0 1.041)" font-size="35.0" text-anchor="end">S8</text>
<text transform="translate(84 1569.5) scale(1.0 1.041)" font-size="35.0" text-anchor="end">S9</text>
<text transform="translate(29.7 1491.4) rotate(-90) scale(0.955 1.041)" font-size="35.0" text-anchor="middle">W-T</text>
<text transform="translate(143.6 1677.4) scale(1.0 1.02)" font-size="34.8">Relative abundance of Class level (%)</text>
<rect x="867.2" y="909.8" width="58" height="27.2" fill="#B4B892" stroke="#262626" stroke-width="1.2"/>
<text transform="translate(931.9 931.2) scale(1.0 1.0)" font-size="26.1">Lecanoromycetes</text>
<rect x="867.2" y="973.3" width="58" height="27.2" fill="#FFB9FF" stroke="#262626" stroke-width="1.2"/>
<text transform="translate(931.9 994.7) scale(1.0 1.0)" font-size="26.1">Dothideomycetes</text>
<rect x="867.2" y="1037.3" width="58" height="27.2" fill="#F8EE66" stroke="#262626" stroke-width="1.2"/>
<text transform="translate(931.9 1058.7) scale(1.0 1.0)" font-size="26.1">Chytridiomycetes</text>
<rect x="867.2" y="1101.6" width="58" height="27.2" fill="#4DBEFF" stroke="#262626" stroke-width="1.2"/>
<text transform="translate(931.9 1123) scale(1.0 1.0)" font-size="26.1">Tremellomycetes</text>
<rect x="867.2" y="1165.5" width="58" height="27.2" fill="#7300FF" stroke="#262626" stroke-width="1.2"/>
<text transform="translate(931.9 1186.9) scale(1.0 1.0)" font-size="26.1">Eurotiomycetes</text>
<rect x="867.2" y="1229.7" width="58" height="27.2" fill="#FF001E" stroke="#262626" stroke-width="1.2"/>
<text transform="translate(931.9 1251.1) scale(1.0 1.0)" font-size="26.1">Sordariomycetes</text>
<rect x="867.2" y="1294" width="58" height="27.2" fill="#156C33" stroke="#262626" stroke-width="1.2"/>
<text transform="translate(931.9 1315.4) scale(1.0 1.0)" font-size="26.1">Glomeromycetes</text>
</g>
<g id="panelC">
<text transform="translate(8.6 1718.8) scale(1.0 1.041)" font-size="33.2" font-weight="bold">C</text>
<rect x="87.4" y="1742.8" width="600.1" height="50.6" fill="#156C33" stroke="#0b0b0b" stroke-width="1.3"/>
<rect x="687.5" y="1742.8" width="3.8" height="50.6" fill="#8C0A14" stroke="#0b0b0b" stroke-width="1.3"/>
<rect x="691.3" y="1742.8" width="51" height="50.6" fill="#8000FF" stroke="#0b0b0b" stroke-width="1.3"/>
<rect x="742.3" y="1742.8" width="1.3" height="50.6" fill="#2A1E1A" stroke="#0b0b0b" stroke-width="0.7"/>
<rect x="743.6" y="1742.8" width="19" height="50.6" fill="#F8EE66" stroke="#0b0b0b" stroke-width="1.3"/>
<rect x="762.6" y="1742.8" width="8.8" height="50.6" fill="#FFB9FF" stroke="#0b0b0b" stroke-width="1.3"/>
<rect x="771.4" y="1742.8" width="2" height="50.6" fill="#2A1E1A" stroke="#0b0b0b" stroke-width="0.7"/>
<rect x="773.4" y="1742.8" width="2.2" height="50.6" fill="#2A1E1A" stroke="#0b0b0b" stroke-width="0.7"/>
<rect x="87.4" y="1807.4" width="579.1" height="50.9" fill="#156C33" stroke="#0b0b0b" stroke-width="1.3"/>
<rect x="666.5" y="1807.4" width="3.1" height="50.9" fill="#8C0A14" stroke="#0b0b0b" stroke-width="1.3"/>
<rect x="669.6" y="1807.4" width="65.7" height="50.9" fill="#8000FF" stroke="#0b0b0b" stroke-width="1.3"/>
<rect x="735.3" y="1807.4" width="2.5" height="50.9" fill="#5A8A6A" stroke="#0b0b0b" stroke-width="0.7"/>
<rect x="737.8" y="1807.4" width="16.4" height="50.9" fill="#F8EE66" stroke="#0b0b0b" stroke-width="1.3"/>
<rect x="754.2" y="1807.4" width="17.2" height="50.9" fill="#FFB9FF" stroke="#0b0b0b" stroke-width="1.3"/>
<rect x="771.4" y="1807.4" width="2.2" height="50.9" fill="#F4F0D0" stroke="#0b0b0b" stroke-width="0.7"/>
<rect x="773.6" y="1807.4" width="2" height="50.9" fill="#EEE" stroke="#0b0b0b" stroke-width="0.7"/>
<rect x="87.4" y="1872" width="592.7" height="51.2" fill="#156C33" stroke="#0b0b0b" stroke-width="1.3"/>
<rect x="680.1" y="1872" width="3.5" height="51.2" fill="#7A0A50" stroke="#0b0b0b" stroke-width="1.3"/>
<rect x="683.6" y="1872" width="55.9" height="51.2" fill="#8000FF" stroke="#0b0b0b" stroke-width="1.3"/>
<rect x="739.5" y="1872" width="2.5" height="51.2" fill="#8A8A7A" stroke="#0b0b0b" stroke-width="0.7"/>
<rect x="742" y="1872" width="18.2" height="51.2" fill="#F8EE66" stroke="#0b0b0b" stroke-width="1.3"/>
<rect x="760.2" y="1872" width="11.2" height="51.2" fill="#FFB9FF" stroke="#0b0b0b" stroke-width="1.3"/>
<rect x="771.4" y="1872" width="2" height="51.2" fill="#2A1E1A" stroke="#0b0b0b" stroke-width="0.7"/>
<rect x="773.4" y="1872" width="2.2" height="51.2" fill="#2A1E1A" stroke="#0b0b0b" stroke-width="0.7"/>
<line x1="87.4" y1="1734.2" x2="87.4" y2="1935.6" stroke="#000" stroke-width="2.3"/>
<line x1="81.9" y1="1929.6" x2="776" y2="1929.6" stroke="#000" stroke-width="2"/>
<line x1="81.8" y1="1735.2" x2="87.4" y2="1735.2" stroke="#000" stroke-width="1.8"/>
<line x1="81.8" y1="1767.5" x2="87.4" y2="1767.5" stroke="#000" stroke-width="1.8"/>
<line x1="81.8" y1="1833" x2="87.4" y2="1833" stroke="#000" stroke-width="1.8"/>
<line x1="81.8" y1="1897" x2="87.4" y2="1897" stroke="#000" stroke-width="1.8"/>
<line x1="81.8" y1="1799.7" x2="87.4" y2="1799.7" stroke="#000" stroke-width="1.8"/>
<line x1="81.8" y1="1864.7" x2="87.4" y2="1864.7" stroke="#000" stroke-width="1.8"/>
<line x1="114.9" y1="1929.6" x2="114.9" y2="1933.4" stroke="#000" stroke-width="1.7"/>
<line x1="142.41" y1="1929.6" x2="142.41" y2="1933.4" stroke="#000" stroke-width="1.7"/>
<line x1="169.91" y1="1929.6" x2="169.91" y2="1933.4" stroke="#000" stroke-width="1.7"/>
<line x1="197.42" y1="1929.6" x2="197.42" y2="1933.4" stroke="#000" stroke-width="1.7"/>
<line x1="224.92" y1="1929.6" x2="224.92" y2="1935.8" stroke="#000" stroke-width="2"/>
<line x1="252.42" y1="1929.6" x2="252.42" y2="1933.4" stroke="#000" stroke-width="1.7"/>
<line x1="279.93" y1="1929.6" x2="279.93" y2="1933.4" stroke="#000" stroke-width="1.7"/>
<line x1="307.43" y1="1929.6" x2="307.43" y2="1933.4" stroke="#000" stroke-width="1.7"/>
<line x1="334.94" y1="1929.6" x2="334.94" y2="1933.4" stroke="#000" stroke-width="1.7"/>
<line x1="362.44" y1="1929.6" x2="362.44" y2="1935.8" stroke="#000" stroke-width="2"/>
<line x1="389.94" y1="1929.6" x2="389.94" y2="1933.4" stroke="#000" stroke-width="1.7"/>
<line x1="417.45" y1="1929.6" x2="417.45" y2="1933.4" stroke="#000" stroke-width="1.7"/>
<line x1="444.95" y1="1929.6" x2="444.95" y2="1933.4" stroke="#000" stroke-width="1.7"/>
<line x1="472.46" y1="1929.6" x2="472.46" y2="1933.4" stroke="#000" stroke-width="1.7"/>
<line x1="499.96" y1="1929.6" x2="499.96" y2="1935.8" stroke="#000" stroke-width="2"/>
<line x1="527.46" y1="1929.6" x2="527.46" y2="1933.4" stroke="#000" stroke-width="1.7"/>
<line x1="554.97" y1="1929.6" x2="554.97" y2="1933.4" stroke="#000" stroke-width="1.7"/>
<line x1="582.47" y1="1929.6" x2="582.47" y2="1933.4" stroke="#000" stroke-width="1.7"/>
<line x1="609.98" y1="1929.6" x2="609.98" y2="1933.4" stroke="#000" stroke-width="1.7"/>
<line x1="637.48" y1="1929.6" x2="637.48" y2="1935.8" stroke="#000" stroke-width="2"/>
<line x1="664.98" y1="1929.6" x2="664.98" y2="1933.4" stroke="#000" stroke-width="1.7"/>
<line x1="692.49" y1="1929.6" x2="692.49" y2="1933.4" stroke="#000" stroke-width="1.7"/>
<line x1="719.99" y1="1929.6" x2="719.99" y2="1933.4" stroke="#000" stroke-width="1.7"/>
<line x1="747.5" y1="1929.6" x2="747.5" y2="1933.4" stroke="#000" stroke-width="1.7"/>
<line x1="775" y1="1929.6" x2="775" y2="1935.8" stroke="#000" stroke-width="2"/>
<text transform="translate(87.6 1966.3) scale(1.0 1.02)" font-size="33.5" text-anchor="middle">0</text>
<text transform="translate(225.12 1966.3) scale(1.0 1.02)" font-size="33.5" text-anchor="middle">20</text>
<text transform="translate(362.64 1966.3) scale(1.0 1.02)" font-size="33.5" text-anchor="middle">40</text>
<text transform="translate(500.16 1966.3) scale(1.0 1.02)" font-size="33.5" text-anchor="middle">60</text>
<text transform="translate(637.68 1966.3) scale(1.0 1.02)" font-size="33.5" text-anchor="middle">80</text>
<text transform="translate(775.3 1966.3) scale(1.0 1.02)" font-size="33.5" text-anchor="middle">100</text>
<text transform="translate(84.4 1777.7) scale(1.0 1.026)" font-size="34.3" text-anchor="end">S1</text>
<text transform="translate(84.4 1842.2) scale(1.0 1.026)" font-size="34.3" text-anchor="end">S2</text>
<text transform="translate(84.4 1906.1) scale(1.0 1.026)" font-size="34.3" text-anchor="end">S3</text>
<text transform="translate(31.2 1831.2) rotate(-90) scale(0.955 1.041)" font-size="33.8" text-anchor="middle">W-B</text>
<rect x="87.4" y="1982" width="660.1" height="51.4" fill="#156C33" stroke="#0b0b0b" stroke-width="1.3"/>
<rect x="747.5" y="1982" width="2.8" height="51.4" fill="#FF001E" stroke="#0b0b0b" stroke-width="0.7"/>
<rect x="750.3" y="1982" width="5.3" height="51.4" fill="#8000FF" stroke="#0b0b0b" stroke-width="1.3"/>
<rect x="755.6" y="1982" width="2.1" height="51.4" fill="#10206A" stroke="#0b0b0b" stroke-width="0.7"/>
<rect x="757.7" y="1982" width="10.4" height="51.4" fill="#F8EE66" stroke="#0b0b0b" stroke-width="1.3"/>
<rect x="768.1" y="1982" width="3.2" height="51.4" fill="#FFB9FF" stroke="#0b0b0b" stroke-width="1.3"/>
<rect x="771.3" y="1982" width="2.1" height="51.4" fill="#8AC0B0" stroke="#0b0b0b" stroke-width="0.7"/>
<rect x="773.4" y="1982" width="2.1" height="51.4" fill="#DDD" stroke="#0b0b0b" stroke-width="0.7"/>
<rect x="87.4" y="2046.6" width="647.7" height="50.9" fill="#156C33" stroke="#0b0b0b" stroke-width="1.3"/>
<rect x="735.1" y="2046.6" width="2.9" height="50.9" fill="#8C0A14" stroke="#0b0b0b" stroke-width="0.7"/>
<rect x="738" y="2046.6" width="14.9" height="50.9" fill="#8000FF" stroke="#0b0b0b" stroke-width="1.3"/>
<rect x="752.9" y="2046.6" width="1.9" height="50.9" fill="#10104A" stroke="#0b0b0b" stroke-width="0.7"/>
<rect x="754.8" y="2046.6" width="17.2" height="50.9" fill="#F8EE66" stroke="#0b0b0b" stroke-width="1.3"/>
<rect x="772" y="2046.6" width="1.4" height="50.9" fill="#FFB9FF" stroke="#0b0b0b" stroke-width="0.7"/>
<rect x="773.4" y="2046.6" width="2.1" height="50.9" fill="#2A1E1A" stroke="#0b0b0b" stroke-width="0.7"/>
<rect x="87.4" y="2110.4" width="653.8" height="52.2" fill="#156C33" stroke="#0b0b0b" stroke-width="1.3"/>
<rect x="741.2" y="2110.4" width="3.3" height="52.2" fill="#E0001A" stroke="#0b0b0b" stroke-width="1.3"/>
<rect x="744.5" y="2110.4" width="9.5" height="52.2" fill="#8000FF" stroke="#0b0b0b" stroke-width="1.3"/>
<rect x="754" y="2110.4" width="2.1" height="52.2" fill="#10104A" stroke="#0b0b0b" stroke-width="0.7"/>
<rect x="756.1" y="2110.4" width="14.1" height="52.2" fill="#F8EE66" stroke="#0b0b0b" stroke-width="1.3"/>
<rect x="770.2" y="2110.4" width="1.4" height="52.2" fill="#444" stroke="#0b0b0b" stroke-width="0.7"/>
<rect x="771.6" y="2110.4" width="2.3" height="52.2" fill="#9A9AAA" stroke="#0b0b0b" stroke-width="0.7"/>
<rect x="773.9" y="2110.4" width="1.6" height="52.2" fill="#2A1E1A" stroke="#0b0b0b" stroke-width="0.7"/>
<line x1="87.4" y1="1973.6" x2="87.4" y2="2174.6" stroke="#000" stroke-width="2.3"/>
<line x1="81.9" y1="2168.6" x2="776" y2="2168.6" stroke="#000" stroke-width="2"/>
<line x1="81.8" y1="1974.6" x2="87.4" y2="1974.6" stroke="#000" stroke-width="1.8"/>
<line x1="81.8" y1="2006.3" x2="87.4" y2="2006.3" stroke="#000" stroke-width="1.8"/>
<line x1="81.8" y1="2071.8" x2="87.4" y2="2071.8" stroke="#000" stroke-width="1.8"/>
<line x1="81.8" y1="2135.3" x2="87.4" y2="2135.3" stroke="#000" stroke-width="1.8"/>
<line x1="81.8" y1="2039.6" x2="87.4" y2="2039.6" stroke="#000" stroke-width="1.8"/>
<line x1="81.8" y1="2104.1" x2="87.4" y2="2104.1" stroke="#000" stroke-width="1.8"/>
<line x1="114.9" y1="2168.6" x2="114.9" y2="2172.4" stroke="#000" stroke-width="1.7"/>
<line x1="142.41" y1="2168.6" x2="142.41" y2="2172.4" stroke="#000" stroke-width="1.7"/>
<line x1="169.91" y1="2168.6" x2="169.91" y2="2172.4" stroke="#000" stroke-width="1.7"/>
<line x1="197.42" y1="2168.6" x2="197.42" y2="2172.4" stroke="#000" stroke-width="1.7"/>
<line x1="224.92" y1="2168.6" x2="224.92" y2="2174.8" stroke="#000" stroke-width="2"/>
<line x1="252.42" y1="2168.6" x2="252.42" y2="2172.4" stroke="#000" stroke-width="1.7"/>
<line x1="279.93" y1="2168.6" x2="279.93" y2="2172.4" stroke="#000" stroke-width="1.7"/>
<line x1="307.43" y1="2168.6" x2="307.43" y2="2172.4" stroke="#000" stroke-width="1.7"/>
<line x1="334.94" y1="2168.6" x2="334.94" y2="2172.4" stroke="#000" stroke-width="1.7"/>
<line x1="362.44" y1="2168.6" x2="362.44" y2="2174.8" stroke="#000" stroke-width="2"/>
<line x1="389.94" y1="2168.6" x2="389.94" y2="2172.4" stroke="#000" stroke-width="1.7"/>
<line x1="417.45" y1="2168.6" x2="417.45" y2="2172.4" stroke="#000" stroke-width="1.7"/>
<line x1="444.95" y1="2168.6" x2="444.95" y2="2172.4" stroke="#000" stroke-width="1.7"/>
<line x1="472.46" y1="2168.6" x2="472.46" y2="2172.4" stroke="#000" stroke-width="1.7"/>
<line x1="499.96" y1="2168.6" x2="499.96" y2="2174.8" stroke="#000" stroke-width="2"/>
<line x1="527.46" y1="2168.6" x2="527.46" y2="2172.4" stroke="#000" stroke-width="1.7"/>
<line x1="554.97" y1="2168.6" x2="554.97" y2="2172.4" stroke="#000" stroke-width="1.7"/>
<line x1="582.47" y1="2168.6" x2="582.47" y2="2172.4" stroke="#000" stroke-width="1.7"/>
<line x1="609.98" y1="2168.6" x2="609.98" y2="2172.4" stroke="#000" stroke-width="1.7"/>
<line x1="637.48" y1="2168.6" x2="637.48" y2="2174.8" stroke="#000" stroke-width="2"/>
<line x1="664.98" y1="2168.6" x2="664.98" y2="2172.4" stroke="#000" stroke-width="1.7"/>
<line x1="692.49" y1="2168.6" x2="692.49" y2="2172.4" stroke="#000" stroke-width="1.7"/>
<line x1="719.99" y1="2168.6" x2="719.99" y2="2172.4" stroke="#000" stroke-width="1.7"/>
<line x1="747.5" y1="2168.6" x2="747.5" y2="2172.4" stroke="#000" stroke-width="1.7"/>
<line x1="775" y1="2168.6" x2="775" y2="2174.8" stroke="#000" stroke-width="2"/>
<text transform="translate(87.6 2205.5) scale(1.0 1.02)" font-size="33.5" text-anchor="middle">0</text>
<text transform="translate(225.12 2205.5) scale(1.0 1.02)" font-size="33.5" text-anchor="middle">20</text>
<text transform="translate(362.64 2205.5) scale(1.0 1.02)" font-size="33.5" text-anchor="middle">40</text>
<text transform="translate(500.16 2205.5) scale(1.0 1.02)" font-size="33.5" text-anchor="middle">60</text>
<text transform="translate(637.68 2205.5) scale(1.0 1.02)" font-size="33.5" text-anchor="middle">80</text>
<text transform="translate(775.3 2205.5) scale(1.0 1.02)" font-size="33.5" text-anchor="middle">100</text>
<text transform="translate(84.4 2016.5) scale(1.0 1.026)" font-size="34.3" text-anchor="end">S4</text>
<text transform="translate(84.4 2081.5) scale(1.0 1.026)" font-size="34.3" text-anchor="end">S5</text>
<text transform="translate(84.4 2147.1) scale(1.0 1.026)" font-size="34.3" text-anchor="end">S6</text>
<text transform="translate(31.2 2071.6) rotate(-90) scale(0.955 1.041)" font-size="33.8" text-anchor="middle">W-S</text>
<rect x="87.4" y="2221.4" width="603.9" height="51.5" fill="#156C33" stroke="#0b0b0b" stroke-width="1.3"/>
<rect x="691.3" y="2221.4" width="29.1" height="51.5" fill="#FF001E" stroke="#0b0b0b" stroke-width="1.3"/>
<rect x="720.4" y="2221.4" width="15.2" height="51.5" fill="#8000FF" stroke="#0b0b0b" stroke-width="1.3"/>
<rect x="735.6" y="2221.4" width="20" height="51.5" fill="#4DBEFF" stroke="#0b0b0b" stroke-width="1.3"/>
<rect x="755.6" y="2221.4" width="8.9" height="51.5" fill="#F8EE66" stroke="#0b0b0b" stroke-width="1.3"/>
<rect x="764.5" y="2221.4" width="6.8" height="51.5" fill="#FFB9FF" stroke="#0b0b0b" stroke-width="1.3"/>
<rect x="771.3" y="2221.4" width="4.5" height="51.5" fill="#000" stroke="#0b0b0b" stroke-width="1.3"/>
<rect x="87.4" y="2285.9" width="607.8" height="51.2" fill="#156C33" stroke="#0b0b0b" stroke-width="1.3"/>
<rect x="695.2" y="2285.9" width="21.5" height="51.2" fill="#FF001E" stroke="#0b0b0b" stroke-width="1.3"/>
<rect x="716.7" y="2285.9" width="25.2" height="51.2" fill="#8000FF" stroke="#0b0b0b" stroke-width="1.3"/>
<rect x="741.9" y="2285.9" width="8.9" height="51.2" fill="#4DBEFF" stroke="#0b0b0b" stroke-width="1.3"/>
<rect x="750.8" y="2285.9" width="14.7" height="51.2" fill="#F8EE66" stroke="#0b0b0b" stroke-width="1.3"/>
<rect x="765.5" y="2285.9" width="2.1" height="51.2" fill="#FFB9FF" stroke="#0b0b0b" stroke-width="0.7"/>
<rect x="767.6" y="2285.9" width="2.1" height="51.2" fill="#E4E4E4" stroke="#0b0b0b" stroke-width="0.7"/>
<rect x="769.7" y="2285.9" width="2.1" height="51.2" fill="#E8C4B0" stroke="#0b0b0b" stroke-width="0.7"/>
<rect x="771.8" y="2285.9" width="2.1" height="51.2" fill="#E0C49C" stroke="#0b0b0b" stroke-width="0.7"/>
<rect x="773.9" y="2285.9" width="1.9" height="51.2" fill="#8A7A6A" stroke="#0b0b0b" stroke-width="0.7"/>
<rect x="87.4" y="2349.4" width="605.5" height="53.2" fill="#156C33" stroke="#0b0b0b" stroke-width="1.3"/>
<rect x="692.9" y="2349.4" width="24.6" height="53.2" fill="#FF001E" stroke="#0b0b0b" stroke-width="1.3"/>
<rect x="717.5" y="2349.4" width="21.6" height="53.2" fill="#8000FF" stroke="#0b0b0b" stroke-width="1.3"/>
<rect x="739.1" y="2349.4" width="14.9" height="53.2" fill="#4DBEFF" stroke="#0b0b0b" stroke-width="1.3"/>
<rect x="754" y="2349.4" width="11.7" height="53.2" fill="#F8EE66" stroke="#0b0b0b" stroke-width="1.3"/>
<rect x="765.7" y="2349.4" width="4.2" height="53.2" fill="#FFB9FF" stroke="#0b0b0b" stroke-width="1.3"/>
<rect x="769.9" y="2349.4" width="1.4" height="53.2" fill="#2A1E1A" stroke="#0b0b0b" stroke-width="0.7"/>
<rect x="771.3" y="2349.4" width="2.6" height="53.2" fill="#7A8A8A" stroke="#0b0b0b" stroke-width="0.7"/>
<rect x="773.9" y="2349.4" width="1.9" height="53.2" fill="#2A1E1A" stroke="#0b0b0b" stroke-width="0.7"/>
<line x1="87.4" y1="2213.3" x2="87.4" y2="2413.9" stroke="#000" stroke-width="2.3"/>
<line x1="81.9" y1="2407.9" x2="776" y2="2407.9" stroke="#000" stroke-width="2"/>
<line x1="81.8" y1="2214.3" x2="87.4" y2="2214.3" stroke="#000" stroke-width="1.8"/>
<line x1="81.8" y1="2245.8" x2="87.4" y2="2245.8" stroke="#000" stroke-width="1.8"/>
<line x1="81.8" y1="2310.8" x2="87.4" y2="2310.8" stroke="#000" stroke-width="1.8"/>
<line x1="81.8" y1="2374.8" x2="87.4" y2="2374.8" stroke="#000" stroke-width="1.8"/>
<line x1="81.8" y1="2278.6" x2="87.4" y2="2278.6" stroke="#000" stroke-width="1.8"/>
<line x1="81.8" y1="2343.6" x2="87.4" y2="2343.6" stroke="#000" stroke-width="1.8"/>
<line x1="114.9" y1="2407.9" x2="114.9" y2="2411.7" stroke="#000" stroke-width="1.7"/>
<line x1="142.41" y1="2407.9" x2="142.41" y2="2411.7" stroke="#000" stroke-width="1.7"/>
<line x1="169.91" y1="2407.9" x2="169.91" y2="2411.7" stroke="#000" stroke-width="1.7"/>
<line x1="197.42" y1="2407.9" x2="197.42" y2="2411.7" stroke="#000" stroke-width="1.7"/>
<line x1="224.92" y1="2407.9" x2="224.92" y2="2414.1" stroke="#000" stroke-width="2"/>
<line x1="252.42" y1="2407.9" x2="252.42" y2="2411.7" stroke="#000" stroke-width="1.7"/>
<line x1="279.93" y1="2407.9" x2="279.93" y2="2411.7" stroke="#000" stroke-width="1.7"/>
<line x1="307.43" y1="2407.9" x2="307.43" y2="2411.7" stroke="#000" stroke-width="1.7"/>
<line x1="334.94" y1="2407.9" x2="334.94" y2="2411.7" stroke="#000" stroke-width="1.7"/>
<line x1="362.44" y1="2407.9" x2="362.44" y2="2414.1" stroke="#000" stroke-width="2"/>
<line x1="389.94" y1="2407.9" x2="389.94" y2="2411.7" stroke="#000" stroke-width="1.7"/>
<line x1="417.45" y1="2407.9" x2="417.45" y2="2411.7" stroke="#000" stroke-width="1.7"/>
<line x1="444.95" y1="2407.9" x2="444.95" y2="2411.7" stroke="#000" stroke-width="1.7"/>
<line x1="472.46" y1="2407.9" x2="472.46" y2="2411.7" stroke="#000" stroke-width="1.7"/>
<line x1="499.96" y1="2407.9" x2="499.96" y2="2414.1" stroke="#000" stroke-width="2"/>
<line x1="527.46" y1="2407.9" x2="527.46" y2="2411.7" stroke="#000" stroke-width="1.7"/>
<line x1="554.97" y1="2407.9" x2="554.97" y2="2411.7" stroke="#000" stroke-width="1.7"/>
<line x1="582.47" y1="2407.9" x2="582.47" y2="2411.7" stroke="#000" stroke-width="1.7"/>
<line x1="609.98" y1="2407.9" x2="609.98" y2="2411.7" stroke="#000" stroke-width="1.7"/>
<line x1="637.48" y1="2407.9" x2="637.48" y2="2414.1" stroke="#000" stroke-width="2"/>
<line x1="664.98" y1="2407.9" x2="664.98" y2="2411.7" stroke="#000" stroke-width="1.7"/>
<line x1="692.49" y1="2407.9" x2="692.49" y2="2411.7" stroke="#000" stroke-width="1.7"/>
<line x1="719.99" y1="2407.9" x2="719.99" y2="2411.7" stroke="#000" stroke-width="1.7"/>
<line x1="747.5" y1="2407.9" x2="747.5" y2="2411.7" stroke="#000" stroke-width="1.7"/>
<line x1="775" y1="2407.9" x2="775" y2="2414.1" stroke="#000" stroke-width="2"/>
<text transform="translate(87.6 2445.9) scale(1.0 1.02)" font-size="33.5" text-anchor="middle">0</text>
<text transform="translate(225.12 2445.9) scale(1.0 1.02)" font-size="33.5" text-anchor="middle">20</text>
<text transform="translate(362.64 2445.9) scale(1.0 1.02)" font-size="33.5" text-anchor="middle">40</text>
<text transform="translate(500.16 2445.9) scale(1.0 1.02)" font-size="33.5" text-anchor="middle">60</text>
<text transform="translate(637.68 2445.9) scale(1.0 1.02)" font-size="33.5" text-anchor="middle">80</text>
<text transform="translate(775.3 2445.9) scale(1.0 1.02)" font-size="33.5" text-anchor="middle">100</text>
<text transform="translate(84.4 2255) scale(1.0 1.026)" font-size="34.3" text-anchor="end">S7</text>
<text transform="translate(84.4 2321) scale(1.0 1.026)" font-size="34.3" text-anchor="end">S8</text>
<text transform="translate(84.4 2386) scale(1.0 1.026)" font-size="34.3" text-anchor="end">S9</text>
<text transform="translate(31.2 2310.8) rotate(-90) scale(0.955 1.041)" font-size="33.8" text-anchor="middle">W-T</text>
<text transform="translate(145.6 2489.6) scale(1.0 1.02)" font-size="33.8">Relative abundance of Order level (%)</text>
<rect x="843.7" y="1745.3" width="56.3" height="26.8" fill="#AAFFFF" stroke="#262626" stroke-width="1.2"/>
<text transform="translate(906.4 1766.6) scale(1.0 1.03)" font-size="25.4">Teloschistales</text>
<rect x="843.7" y="1807.3" width="56.3" height="26.8" fill="#C8B0DC" stroke="#262626" stroke-width="1.2"/>
<text transform="translate(906.4 1828.6) scale(1.0 1.03)" font-size="25.4">Cystofilobasidiaceae</text>
<rect x="843.7" y="1869.2" width="56.3" height="26.8" fill="#90D890" stroke="#262626" stroke-width="1.2"/>
<text transform="translate(906.4 1890.5) scale(1.0 1.03)" font-size="25.4">Lecanorales</text>
<rect x="843.7" y="1931.3" width="56.3" height="26.8" fill="#FFCC96" stroke="#262626" stroke-width="1.2"/>
<text transform="translate(906.4 1952.6) scale(1.0 1.03)" font-size="25.4">Chaetothyriales</text>
<rect x="843.7" y="1993.3" width="56.3" height="26.8" fill="#B8EAF0" stroke="#262626" stroke-width="1.2"/>
<text transform="translate(906.4 2014.6) scale(1.0 1.03)" font-size="25.4">Eurotiales</text>
<rect x="843.7" y="2055.6" width="56.3" height="26.8" fill="#B4B892" stroke="#262626" stroke-width="1.2"/>
<text transform="translate(906.4 2076.9) scale(1.0 1.03)" font-size="25.4">Chytridiales</text>
<rect x="843.7" y="2117.9" width="56.3" height="26.8" fill="#FFB9FF" stroke="#262626" stroke-width="1.2"/>
<text transform="translate(906.4 2139.2) scale(1.0 1.03)" font-size="25.4">Other</text>
<rect x="843.7" y="2179.8" width="56.3" height="26.8" fill="#F8EE66" stroke="#262626" stroke-width="1.2"/>
<text transform="translate(906.4 2201.1) scale(1.0 1.03)" font-size="25.4">Diversisporales</text>
<rect x="843.7" y="2241.7" width="56.3" height="26.8" fill="#4DBEFF" stroke="#262626" stroke-width="1.2"/>
<text transform="translate(906.4 2263) scale(1.0 1.03)" font-size="25.4">Tremellales</text>
<rect x="843.7" y="2303.6" width="56.3" height="26.8" fill="#7300FF" stroke="#262626" stroke-width="1.2"/>
<text transform="translate(906.4 2324.9) scale(1.0 1.03)" font-size="25.4">Hypocreales</text>
<rect x="843.7" y="2366.2" width="56.3" height="26.8" fill="#FF001E" stroke="#262626" stroke-width="1.2"/>
<text transform="translate(906.4 2387.5) scale(1.0 1.03)" font-size="25.4">Archaeosporales</text>
<rect x="843.7" y="2428.1" width="56.3" height="26.8" fill="#156C33" stroke="#262626" stroke-width="1.2"/>
<text transform="translate(906.4 2449.4) scale(1.0 1.03)" font-size="25.4">Glomerales</text>
</g>
</svg>
</body></html>
